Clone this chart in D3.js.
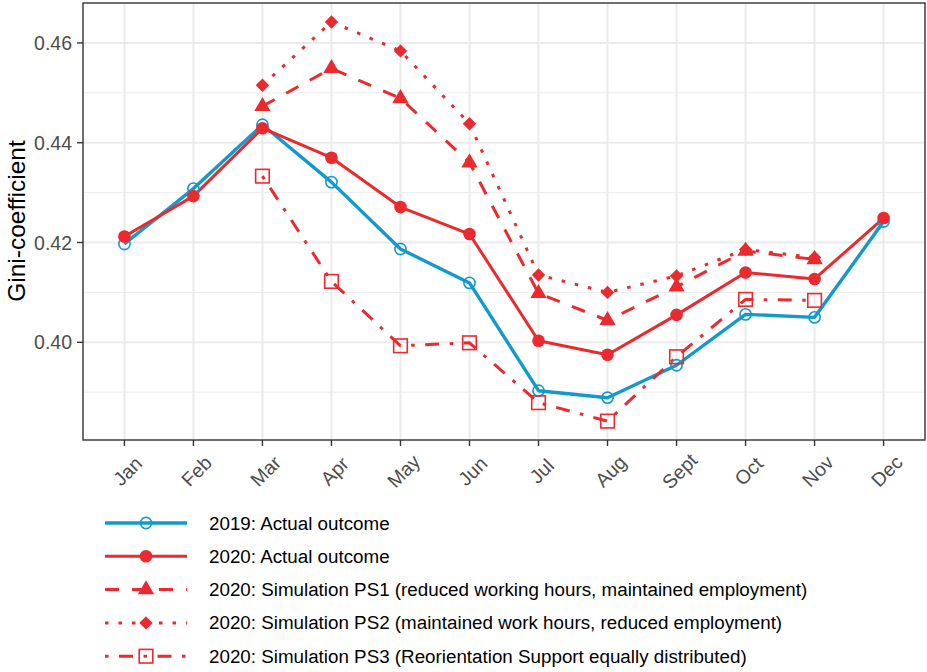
<!DOCTYPE html>
<meta charset="utf-8">
<style>
  body { margin: 0; background: #fff; }
  text { font-family: "Liberation Sans", Arial, sans-serif; }
</style>
<svg width="927" height="672"></svg>
<script src="https://d3js.org/d3.v7.min.js"></script>
<script>

var months = ["Jan", "Feb", "Mar", "Apr", "May", "Jun", "Jul", "Aug", "Sept", "Oct", "Nov", "Dec"];

// values (null = no point)
var actual2019 = [0.4197, 0.4308, 0.4436, 0.4321, 0.4187, 0.4119, 0.3903, 0.3889, 0.3954, 0.4056, 0.4050, 0.4242];
var actual2020 = [0.4212, 0.4293, 0.4429, 0.4370, 0.4271, 0.4217, 0.4003, 0.3975, 0.4055, 0.4140, 0.4127, 0.4249];
var ps1 = [null, null, 0.4473, 0.4549, 0.4489, 0.4360, 0.4098, 0.4044, 0.4111, 0.4183, 0.4166, null];
var ps2 = [null, null, 0.4515, 0.4642, 0.4584, 0.4438, 0.4135, 0.4100, 0.4133, 0.4186, 0.4170, null];
var ps3 = [null, null, 0.4333, 0.4122, 0.3993, 0.3999, 0.3879, 0.3842, 0.3971, 0.4086, 0.4084, null];

var yTicks = [0.40, 0.42, 0.44, 0.46];
var yMinor = [0.39, 0.41, 0.43, 0.45];

var blue = "#1399cb", red = "#ea2a2e";

var series = [
  {name: "2019: Actual outcome", values: actual2019, color: blue, width: 3.4, dash: null, shape: "opencircle"},
  {name: "2020: Actual outcome", values: actual2020, color: red, width: 3, dash: null, shape: "circle"},
  {name: "2020: Simulation PS1 (reduced working hours, maintained employment)", values: ps1, color: red, width: 3, dash: "14,13", shape: "triangle"},
  {name: "2020: Simulation PS2 (maintained work hours, reduced employment)", values: ps2, color: red, width: 3, dash: "3.5,10", shape: "diamond"},
  {name: "2020: Simulation PS3 (Reorientation Support equally distributed)", values: ps3, color: red, width: 3, dash: "3.5,10.5,14,10.5", shape: "square"}
];

var svg = d3.select("svg");
var panel = {left: 83, top: 3, right: 925, bottom: 440};

var x = d3.scalePoint().domain(months).range([panel.left, panel.right]).padding(0.6);
var y = d3.scaleLinear().domain([0.38042, 0.46800]).range([panel.bottom, panel.top]);

svg.append("rect").attr("width", 927).attr("height", 672).attr("fill", "#fff");

// grid
var grid = svg.append("g");
grid.selectAll(".minor").data(yMinor).enter().append("line")
    .attr("x1", panel.left).attr("x2", panel.right)
    .attr("y1", d => y(d)).attr("y2", d => y(d))
    .attr("stroke", "#ebebeb").attr("stroke-width", 1);
grid.selectAll(".major").data(yTicks).enter().append("line")
    .attr("x1", panel.left).attr("x2", panel.right)
    .attr("y1", d => y(d)).attr("y2", d => y(d))
    .attr("stroke", "#ebebeb").attr("stroke-width", 2);
grid.selectAll(".vx").data(months).enter().append("line")
    .attr("x1", d => x(d)).attr("x2", d => x(d))
    .attr("y1", panel.top).attr("y2", panel.bottom)
    .attr("stroke", "#ebebeb").attr("stroke-width", 2);

// lines
var line = d3.line()
    .defined(d => d.v != null)
    .x(d => x(d.m)).y(d => y(d.v));

series.forEach(function(s) {
  var pts = s.values.map((v, i) => ({m: months[i], v: v})).filter(d => d.v != null);
  svg.append("path").datum(pts)
      .attr("d", line)
      .attr("fill", "none")
      .attr("stroke", s.color)
      .attr("stroke-width", s.width)
      .attr("stroke-dasharray", s.dash)
      .attr("stroke-linejoin", "round");
});

function drawShape(g, shape, color, cx, cy) {
  if (shape == "opencircle") {
    g.append("circle").attr("cx", cx).attr("cy", cy).attr("r", 5.6)
        .attr("fill", "none").attr("stroke", color).attr("stroke-width", 1.6);
  } else if (shape == "circle") {
    g.append("circle").attr("cx", cx).attr("cy", cy).attr("r", 6.3).attr("fill", color);
  } else if (shape == "triangle") {
    g.append("path").attr("d", d3.symbol(d3.symbolTriangle, 115)())
        .attr("transform", "translate(" + cx + "," + cy + ")").attr("fill", color);
  } else if (shape == "diamond") {
    g.append("path").attr("d", d3.symbol(d3.symbolSquare, 90)())
        .attr("transform", "translate(" + cx + "," + cy + ") rotate(45)").attr("fill", color);
  } else if (shape == "square") {
    g.append("rect").attr("x", cx - 6.8).attr("y", cy - 6.8).attr("width", 13.6).attr("height", 13.6)
        .attr("fill", "none").attr("stroke", color).attr("stroke-width", 1.6);
  }
}

// points
series.forEach(function(s) {
  var g = svg.append("g");
  s.values.forEach(function(v, i) {
    if (v != null) drawShape(g, s.shape, s.color, x(months[i]), y(v));
  });
});

// panel border
svg.append("rect")
    .attr("x", panel.left).attr("y", panel.top)
    .attr("width", panel.right - panel.left).attr("height", panel.bottom - panel.top)
    .attr("fill", "none").attr("stroke", "#333").attr("stroke-width", 1.4);

// y axis
var yAxis = svg.append("g");
yTicks.forEach(function(t) {
  yAxis.append("line").attr("x1", panel.left - 6).attr("x2", panel.left)
      .attr("y1", y(t)).attr("y2", y(t)).attr("stroke", "#333").attr("stroke-width", 1.4);
  yAxis.append("text").attr("x", panel.left - 11).attr("y", y(t))
      .attr("text-anchor", "end").attr("dominant-baseline", "central")
      .attr("fill", "#4d4d4d").style("font-size", "19.5px")
      .text(d3.format(".2f")(t));
});

// x axis
var xAxis = svg.append("g");
months.forEach(function(m) {
  xAxis.append("line").attr("x1", x(m)).attr("x2", x(m))
      .attr("y1", panel.bottom).attr("y2", panel.bottom + 6)
      .attr("stroke", "#333").attr("stroke-width", 1.4);
  xAxis.append("text")
      .attr("transform", "translate(" + (x(m) + 3) + "," + 471 + ") rotate(-45)")
      .attr("text-anchor", "middle").attr("dominant-baseline", "central")
      .attr("fill", "#4d4d4d").style("font-size", "19.5px")
      .text(m);
});

svg.append("text")
    .attr("transform", "translate(" + 16 + "," + 221 + ") rotate(-90)")
    .attr("text-anchor", "middle").attr("dominant-baseline", "central")
    .attr("fill", "#000").style("font-size", "24.5px")
    .text("Gini-coefficient");

// legend
var legend = svg.append("g");
series.forEach(function(s, i) {
  var ly = 523 + i * 33.3;
  legend.append("line").attr("x1", 105).attr("x2", 187).attr("y1", ly).attr("y2", ly)
      .attr("stroke", s.color).attr("stroke-width", s.width)
      .attr("stroke-dasharray", s.dash);
  drawShape(legend, s.shape, s.color, 146, ly);
  legend.append("text").attr("x", 209).attr("y", ly)
      .attr("dominant-baseline", "central")
      .attr("fill", "#000").style("font-size", "18.8px")
      .text(s.name);
});

</script>
